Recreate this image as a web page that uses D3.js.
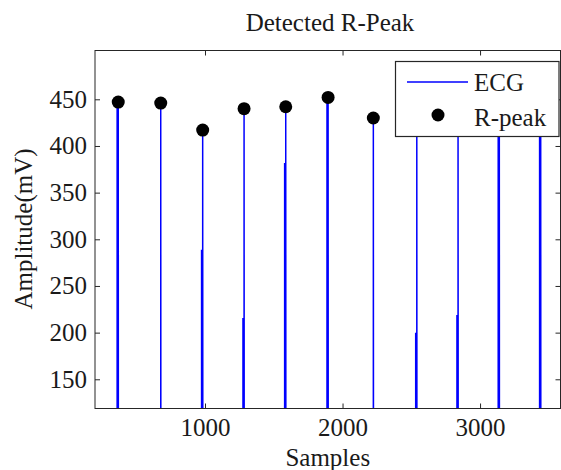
<!DOCTYPE html>
<html>
<head>
<meta charset="utf-8">
<script src="https://cdn.jsdelivr.net/npm/d3@7"></script>
<style>
  body { margin: 0; background: #fff; }
  text { font-family: "Liberation Serif", "Times New Roman", serif; fill: #1a1a1a; }
</style>
</head>
<body>
<svg id="chart" width="561" height="470"></svg>
<script>
// R-peak positions (sample index) and amplitudes
var rSample = [369, 678, 983, 1284, 1587, 1895, 2224, 2540, 2840, 3140, 3441];
var rPeak   = [447, 446, 417, 440, 442, 452, 430, 438, 440, 436, 442];
// amplitude where the upstroke of each QRS joins the downstroke (the spike looks thick below it)
var ecgKnee = [440, 60, 288, 215, 381, 450, 60, 199, 218, 436, 442];
var ecgBase = 60;   // baseline is below the visible window
var xTicks = [1000, 2000, 3000];
var yTicks = [150, 200, 250, 300, 350, 400, 450];

var W = 561, H = 470;
var pLeft = 95, pRight = 560.5, pTop = 50.5, pBottom = 408.5;

var svg = d3.select("#chart");

var x = d3.scaleLinear().domain([200, 3585]).range([pLeft, pRight]);
var y = d3.scaleLinear().domain([118.7, 502.3]).range([pBottom, pTop]);

// ECG trace: one sharp QRS per detected beat
var ecg = [[0, ecgBase]];
rSample.forEach(function(s, i) {
    ecg.push([s - 8, ecgBase]);
    ecg.push([s - 8, ecgKnee[i]]);
    ecg.push([s, ecgKnee[i]]);
    ecg.push([s, rPeak[i]]);
    ecg.push([s + 1, ecgBase]);
});
ecg.push([3600, ecgBase]);

svg.append("defs").append("clipPath").attr("id", "plotclip")
    .append("rect")
    .attr("x", pLeft).attr("y", pTop)
    .attr("width", pRight - pLeft).attr("height", pBottom - pTop);

svg.append("path")
    .datum(ecg)
    .attr("clip-path", "url(#plotclip)")
    .attr("fill", "none")
    .attr("stroke", "#0000ff")
    .attr("stroke-width", 1.5)
    .attr("d", d3.line().x(function(d) { return x(d[0]); }).y(function(d) { return y(d[1]); }));

svg.append("g")
    .selectAll("circle")
    .data(rSample)
    .enter().append("circle")
    .attr("cx", function(d) { return x(d); })
    .attr("cy", function(d, i) { return y(rPeak[i]); })
    .attr("r", 6.5)
    .attr("fill", "#000");

// axes: ticks inside on all four sides
var fmt = d3.format("d");
var gx = svg.append("g").attr("transform", "translate(0," + pBottom + ")")
    .call(d3.axisBottom(x).tickValues(xTicks).tickFormat(fmt).tickSize(-5).tickPadding(9.5));
var gxt = svg.append("g").attr("transform", "translate(0," + pTop + ")")
    .call(d3.axisTop(x).tickValues(xTicks).tickSize(-5).tickFormat(""));
var gy = svg.append("g").attr("transform", "translate(" + pLeft + ",0)")
    .call(d3.axisLeft(y).tickValues(yTicks).tickFormat(fmt).tickSize(-5).tickPadding(8));
var gyr = svg.append("g").attr("transform", "translate(" + pRight + ",0)")
    .call(d3.axisRight(y).tickValues(yTicks).tickSize(-5).tickFormat(""));

[gx, gxt, gy, gyr].forEach(function(g) {
    g.select(".domain").remove();
    g.selectAll("line").attr("stroke", "#262626");
    g.selectAll("text")
        .attr("font-family", "Liberation Serif")
        .attr("font-size", 25)
        .attr("fill", "#1a1a1a");
});

svg.append("rect")
    .attr("x", pLeft).attr("y", pTop)
    .attr("width", pRight - pLeft).attr("height", pBottom - pTop)
    .attr("fill", "none")
    .attr("stroke", "#262626")
    .attr("stroke-width", 1);

// titles
svg.append("text")
    .attr("x", 330).attr("y", 31)
    .attr("text-anchor", "middle")
    .attr("font-size", 25)
    .text("Detected R-Peak");

svg.append("text")
    .attr("x", (pLeft + pRight) / 2).attr("y", 466)
    .attr("text-anchor", "middle")
    .attr("font-size", 25)
    .text("Samples");

svg.append("text")
    .attr("transform", "translate(32," + 229 + ")rotate(-90)")
    .attr("text-anchor", "middle")
    .attr("font-size", 25)
    .text("Amplitude(mV)");

// legend
var lg = svg.append("g");
lg.append("rect")
    .attr("x", 395.5).attr("y", 61.5)
    .attr("width", 163.5).attr("height", 75)
    .attr("fill", "#fff")
    .attr("stroke", "#262626")
    .attr("stroke-width", 1.2);
lg.append("line")
    .attr("x1", 407).attr("x2", 468)
    .attr("y1", 82).attr("y2", 82)
    .attr("stroke", "#0000ff")
    .attr("stroke-width", 1.3);
lg.append("circle")
    .attr("cx", 438).attr("cy", 115).attr("r", 6.5)
    .attr("fill", "#000");
lg.selectAll("text.leg")
    .data(["ECG", "R-peak"])
    .enter().append("text")
    .attr("class", "leg")
    .attr("x", 474)
    .attr("y", function(d, i) { return i === 0 ? 90.5 : 125.5; })
    .attr("font-size", 25)
    .text(function(d) { return d; });
</script>
</body>
</html>
